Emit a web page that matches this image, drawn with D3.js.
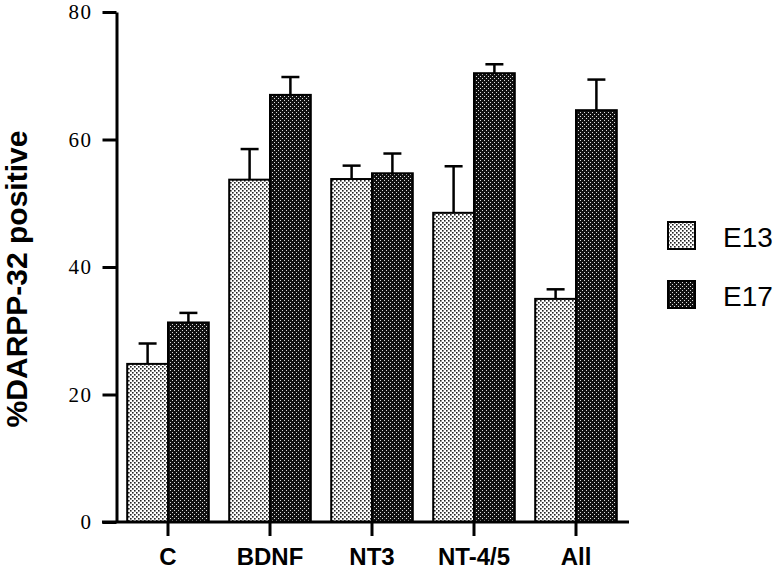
<!DOCTYPE html>
<html><head><meta charset="utf-8">
<script src="https://cdn.jsdelivr.net/npm/d3@7"></script>
<style>body{margin:0;background:#fff}svg{display:block}</style>
</head><body>
<script>
const categories = ["C", "BDNF", "NT3", "NT-4/5", "All"];
const seriesNames = ["E13", "E17"];
const e13Values = [24.8, 53.7, 53.8, 48.5, 35.0];
const e13ErrTop = [28.0, 58.5, 55.9, 55.8, 36.5];
const e17Values = [31.3, 67.0, 54.7, 70.4, 64.6];
const e17ErrTop = [32.8, 69.8, 57.8, 71.8, 69.4];
const yTicks = [0, 20, 40, 60, 80];
const yTitle = "%DARPP-32 positive";

const W = 780, H = 569;
const svg = d3.select("body").append("svg").attr("width", W).attr("height", H);
const defs = svg.append("defs");
const pl = defs.append("pattern").attr("id","pLight").attr("patternUnits","userSpaceOnUse").attr("width",4).attr("height",4);
pl.append("rect").attr("width",4).attr("height",4).attr("fill","#fff");
pl.append("rect").attr("x",0).attr("y",0).attr("width",1.6).attr("height",1.6).attr("fill","#222");
pl.append("rect").attr("x",2).attr("y",2).attr("width",1.6).attr("height",1.6).attr("fill","#222");
const pd = defs.append("pattern").attr("id","pDark").attr("patternUnits","userSpaceOnUse").attr("width",4).attr("height",4);
pd.append("rect").attr("width",4).attr("height",4).attr("fill","#111");
pd.append("rect").attr("x",0).attr("y",0).attr("width",1).attr("height",1).attr("fill","#ddd");
pd.append("rect").attr("x",2).attr("y",2).attr("width",1).attr("height",1).attr("fill","#ddd");
const fills = ["url(#pLight)", "url(#pDark)"];

const y = d3.scaleLinear().domain([0, 80]).range([522, 12]);
const x = d3.scaleBand().domain(categories).range([117, 627]).paddingInner(0.2).paddingOuter(0.1);
const xs = d3.scaleBand().domain(seriesNames).range([0, x.bandwidth()]);

const data = [];
categories.forEach((c, i) => {
  data.push({c, s: "E13", v: e13Values[i], e: e13ErrTop[i]});
  data.push({c, s: "E17", v: e17Values[i], e: e17ErrTop[i]});
});

// error bars
const eb = svg.append("g").attr("stroke","#000").attr("stroke-width",2.5).attr("fill","none");
data.forEach(d => {
  const cx = x(d.c) + xs(d.s) + xs.bandwidth()/2;
  eb.append("line").attr("x1",cx).attr("x2",cx).attr("y1",y(d.v)).attr("y2",y(d.e));
  eb.append("line").attr("x1",cx-9).attr("x2",cx+9).attr("y1",y(d.e)).attr("y2",y(d.e));
});

// bars
svg.append("g").selectAll("rect").data(data).join("rect")
  .attr("x", d => x(d.c) + xs(d.s))
  .attr("y", d => y(d.v))
  .attr("width", xs.bandwidth())
  .attr("height", d => y(0) - y(d.v))
  .attr("fill", d => fills[seriesNames.indexOf(d.s)])
  .attr("stroke", "#000").attr("stroke-width", 2);

// y axis
const ya = svg.append("g").attr("transform","translate(116.5,0)")
  .call(d3.axisLeft(y).tickValues(yTicks).tickSize(14).tickPadding(10).tickSizeOuter(0));
ya.select(".domain").attr("stroke-width",3);
ya.selectAll(".tick line").attr("stroke-width",3);
ya.selectAll(".tick text").attr("font-family","'Liberation Serif', 'Times New Roman', serif")
  .attr("font-size",21).attr("letter-spacing","1.5px").attr("fill","#000");

// x axis
const xa = svg.append("g").attr("transform","translate(0,522)")
  .call(d3.axisBottom(x).tickSize(14).tickPadding(12).tickSizeOuter(0));
xa.select(".domain").attr("d","M102,0H629").attr("stroke-width",3);
xa.selectAll(".tick line").attr("stroke-width",3);
xa.selectAll(".tick text").attr("font-family","'Liberation Sans', Arial, sans-serif")
  .attr("font-weight","bold").attr("font-size",24).attr("fill","#000");

// y title
svg.append("text").attr("transform","translate(27,279) rotate(-90)")
  .attr("text-anchor","middle").attr("font-family","'Liberation Sans', Arial, sans-serif")
  .attr("font-weight","bold").attr("font-size",30).text(yTitle);

// legend
const lg = svg.append("g");
seriesNames.forEach((s, i) => {
  const gy = 222 + i*59;
  lg.append("rect").attr("x",668).attr("y",gy).attr("width",27).attr("height",27)
    .attr("fill",fills[i]).attr("stroke","#000").attr("stroke-width",2);
  lg.append("text").attr("x",723).attr("y",gy+25).attr("font-family","'Liberation Sans', Arial, sans-serif")
    .attr("font-size",28).attr("fill","#000").text(s);
});
</script>
</body></html>
